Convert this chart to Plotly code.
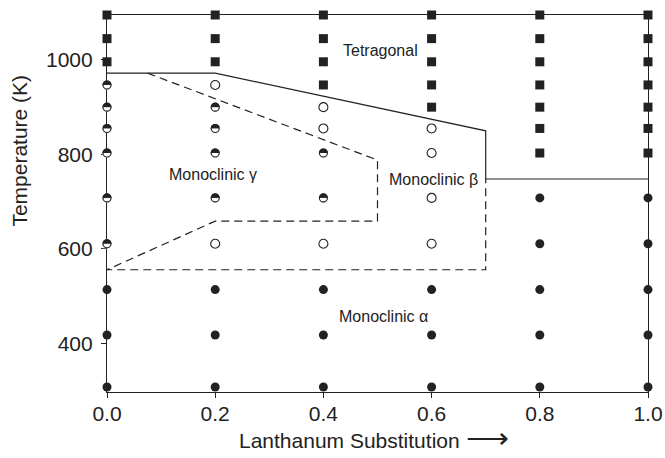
import plotly.graph_objects as go

# Lanthanum content of each sample series
compositions = [0.0, 0.2, 0.4, 0.6, 0.8, 1.0]
# Measurement temperatures (K), bottom to top
temperatures = [308, 418, 514, 611, 708, 803, 855, 900, 947, 996, 1045, 1095]
# Observed phase at each temperature for every composition:
# a = monoclinic alpha, b = monoclinic beta, g = monoclinic gamma, t = tetragonal
phase_x00 = "aaaggggggttt"
phase_x02 = "aaabggggbttt"
phase_x04 = "aaabggbbtttt"
phase_x06 = "aaabbbbttttt"
phase_x08 = "aaaaattttttt"
phase_x10 = "aaaaattttttt"
phase_columns = [phase_x00, phase_x02, phase_x04, phase_x06, phase_x08, phase_x10]

# Phase boundaries (composition, temperature K)
solid_upper_x = [0.0, 0.2, 0.7, 0.7]
solid_upper_t = [972, 972, 850, 748]
solid_right_x = [0.7, 1.0]
solid_right_t = [748, 748]
dashed_x = [0.075, 0.5, 0.5, 0.2, 0.0, 0.7, 0.7]
dashed_t = [972, 788, 659, 659, 556, 556, 748]

# Region labels
region_names = ["Tetragonal", "Monoclinic γ", "Monoclinic β", "Monoclinic α"]
region_x = [0.505, 0.196, 0.603, 0.512]
region_t = [1019, 758, 746, 458]

y_ticks = [400, 600, 800, 1000]
x_title = "Lanthanum Substitution <span style='font-size:30px'>⟶</span>"
y_title = "Temperature (K)"

Y_RANGE = [297.4, 1095]
W, H = 665, 458
MARGIN = dict(l=107, r=17, t=15, b=66)
INK = "#222222"
FONT = "Liberation Sans, Arial, sans-serif"


def points(code):
    xs, ts = [], []
    for x, col in zip(compositions, phase_columns):
        for t, p in zip(temperatures, col):
            if p == code:
                xs.append(x)
                ts.append(t)
    return xs, ts


fig = go.Figure()

# Tetragonal: filled squares
xs, ts = points("t")
fig.add_trace(go.Scatter(x=xs, y=ts, mode="markers", cliponaxis=False,
                         marker=dict(symbol="square", size=9, color=INK, line=dict(width=0))))

# Monoclinic alpha: filled circles
xs, ts = points("a")
fig.add_trace(go.Scatter(x=xs, y=ts, mode="markers", cliponaxis=False,
                         marker=dict(symbol="circle", size=9, color=INK, line=dict(width=0))))

# Monoclinic beta: open circles
xs, ts = points("b")
fig.add_trace(go.Scatter(x=xs, y=ts, mode="markers", cliponaxis=False,
                         marker=dict(symbol="circle", size=9, color="white",
                                     line=dict(width=1.1, color=INK))))

# Monoclinic gamma: circles with the upper half filled
xs, ts = points("g")
plot_h = H - MARGIN["t"] - MARGIN["b"]
px_per_k = plot_h / (Y_RANGE[1] - Y_RANGE[0])
d = 9
half_shift = (d / 4) / px_per_k
fig.add_trace(go.Scatter(x=xs, y=ts, mode="markers", cliponaxis=False,
                         marker=dict(symbol="circle", size=d, color=INK, line=dict(width=0))))
fig.add_trace(go.Scatter(x=xs, y=[t - half_shift for t in ts], mode="markers", cliponaxis=False,
                         marker=dict(symbol="line-ew", size=d / 1.4, color="white",
                                     line=dict(width=d / 2, color="white"))))
fig.add_trace(go.Scatter(x=xs, y=ts, mode="markers", cliponaxis=False,
                         marker=dict(symbol="circle-open", size=d - 1, color=INK,
                                     line=dict(width=1.1, color=INK))))

# Boundaries
line_style = dict(color=INK, width=1.2)
fig.add_trace(go.Scatter(x=solid_upper_x, y=solid_upper_t, mode="lines", line=line_style))
fig.add_trace(go.Scatter(x=solid_right_x, y=solid_right_t, mode="lines", line=line_style))
fig.add_trace(go.Scatter(x=dashed_x, y=dashed_t, mode="lines",
                         line=dict(color=INK, width=1.2, dash="8px,5px")))

for name, x, t in zip(region_names, region_x, region_t):
    fig.add_annotation(x=x, y=t, text=name, showarrow=False,
                       font=dict(family=FONT, size=16, color=INK))

# Axis titles
fig.add_annotation(xref="paper", yref="paper", x=0.494, y=-0.122, yanchor="middle",
                   text=x_title, showarrow=False,
                   font=dict(family=FONT, size=21, color=INK))
fig.add_annotation(xref="paper", yref="paper", x=-0.161, y=0.64, textangle=-90,
                   xanchor="center", yanchor="middle",
                   text=y_title, showarrow=False,
                   font=dict(family=FONT, size=21, color=INK))

axis_common = dict(showline=True, mirror=True, linecolor=INK, linewidth=1.2,
                   showgrid=False, zeroline=False, ticks="outside", ticklen=5,
                   tickwidth=1.1, tickcolor=INK, layer="below traces", automargin=False,
                   tickfont=dict(family=FONT, size=21, color=INK))

fig.update_xaxes(range=[0, 1], tickvals=compositions, ticklabelstandoff=-2,
                 ticktext=[f"{c:.1f}" for c in compositions], **axis_common)
fig.update_yaxes(range=Y_RANGE, tickvals=y_ticks, ticklabelstandoff=4, **axis_common)

fig.update_layout(width=W, height=H, margin=MARGIN, showlegend=False,
                  plot_bgcolor="white", paper_bgcolor="white")

fig.write_html("out.html")
